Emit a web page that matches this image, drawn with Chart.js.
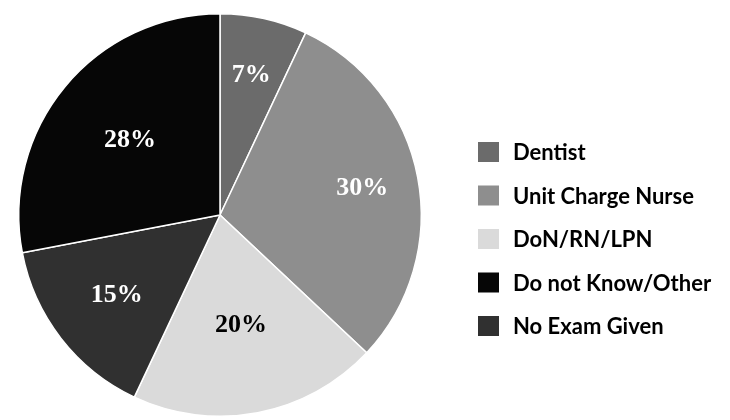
<!DOCTYPE html>
<html>
<head>
<meta charset="utf-8">
<script src="https://cdn.jsdelivr.net/npm/chart.js@4/dist/chart.umd.min.js"></script>
<style>
  html, body { margin: 0; padding: 0; background: #fff; }
  #wrap { width: 730px; height: 420px; position: relative; }
</style>
</head>
<body>
<div id="wrap"><canvas id="pie"></canvas></div>
<script>
// slices, clockwise from 12 o'clock
var categories = ["Dentist", "Unit Charge Nurse", "DoN/RN/LPN", "No Exam Given", "Do not Know/Other"];
var shares = [7, 30, 20, 15, 28];
var legendOrder = ["Dentist", "Unit Charge Nurse", "DoN/RN/LPN", "Do not Know/Other", "No Exam Given"];

var sliceColors = ["#6b6b6b", "#8e8e8e", "#dadada", "#303030", "#060606"];
var labelColors = ["#fff", "#fff", "#000", "#fff", "#fff"];
var labelRadius = [0.71, 0.72, 0.56, 0.65, 0.58];

// percentage labels inside the slices
var sliceLabels = {
  id: "sliceLabels",
  afterDatasetsDraw: function(chart) {
    var ctx = chart.ctx;
    var meta = chart.getDatasetMeta(0);
    ctx.save();
    ctx.font = "bold 26px 'Liberation Serif', serif";
    ctx.textAlign = "center";
    ctx.textBaseline = "middle";
    meta.data.forEach(function(arc, i) {
      var mid = (arc.startAngle + arc.endAngle) / 2;
      var r = arc.outerRadius * labelRadius[i];
      ctx.fillStyle = labelColors[i];
      ctx.fillText(shares[i] + "%", arc.x + Math.cos(mid) * r, arc.y + Math.sin(mid) * r);
    });
    ctx.restore();
  }
};

// legend on the right, in the original's order
var sideLegend = {
  id: "sideLegend",
  afterDraw: function(chart) {
    var ctx = chart.ctx;
    var items = chart.options.plugins.legend.labels.generateLabels(chart);
    ctx.save();
    ctx.font = "bold 22px Lato, sans-serif";
    ctx.textBaseline = "middle";
    legendOrder.forEach(function(name, k) {
      var item = items.find(function(it) { return it.text === name; });
      var y = 152 + k * 43.5;
      ctx.fillStyle = item.fillStyle;
      ctx.fillRect(478, y - 10, 21, 20);
      ctx.fillStyle = "#000";
      ctx.fillText(item.text, 513, y + 1);
    });
    ctx.restore();
  }
};

new Chart(document.getElementById("pie"), {
  type: "pie",
  data: {
    labels: categories,
    datasets: [{
      data: shares,
      backgroundColor: sliceColors,
      borderColor: "#fff",
      borderWidth: 1.5
    }]
  },
  options: {
    responsive: true,
    maintainAspectRatio: false,
    animation: false,
    layout: { padding: { left: 18, top: 13, right: 308, bottom: 3 } },
    plugins: {
      legend: { display: false },
      tooltip: { enabled: false }
    }
  },
  plugins: [sliceLabels, sideLegend]
});
</script>
</body>
</html>
